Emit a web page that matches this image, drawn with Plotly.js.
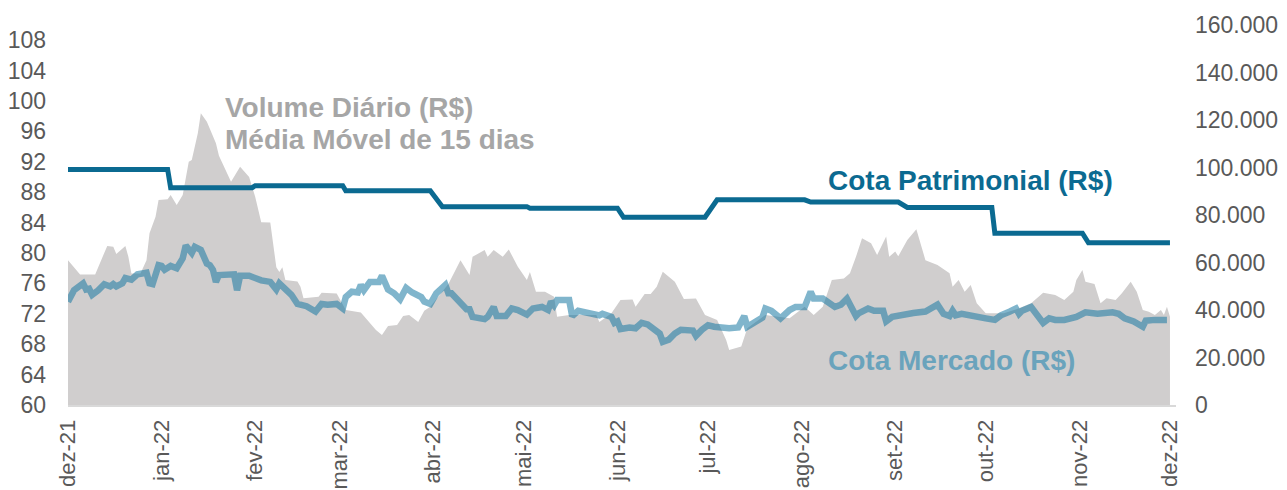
<!DOCTYPE html>
<html>
<head>
<meta charset="utf-8">
<script src="https://cdn.plot.ly/plotly-3.0.1.min.js"></script>
<style>html,body{margin:0;padding:0;background:#fff;}#chart{width:1287px;height:490px;}</style>
</head>
<body>
<div id="chart"></div>
<script>
// X-axis tick positions and labels
var tickDates = ['2021-12-01','2022-01-01','2022-02-01','2022-03-01','2022-04-01','2022-05-01','2022-06-01','2022-07-01','2022-08-01','2022-09-01','2022-10-01','2022-11-01','2022-12-01'];
var tickLabels = ['dez-21','jan-22','fev-22','mar-22','abr-22','mai-22','jun-22','jul-22','ago-22','set-22','out-22','nov-22','dez-22'];

// Volume Diário (R$) - média móvel de 15 dias (eixo direito)
var volDates = [
  '2021-12-01','2021-12-05','2021-12-10','2021-12-14','2021-12-16','2021-12-17','2021-12-20','2021-12-21','2021-12-22','2021-12-25','2021-12-27','2021-12-28','2021-12-30','2021-12-31',
  '2022-01-03','2022-01-04','2022-01-06','2022-01-08','2022-01-10','2022-01-11','2022-01-13','2022-01-14','2022-01-16','2022-01-19','2022-01-20','2022-01-24','2022-01-27','2022-01-30',
  '2022-02-01','2022-02-03','2022-02-06','2022-02-08','2022-02-09','2022-02-10','2022-02-11','2022-02-15','2022-02-16','2022-02-17','2022-02-22','2022-02-23','2022-02-28',
  '2022-03-03','2022-03-08','2022-03-10','2022-03-13','2022-03-15','2022-03-17','2022-03-20','2022-03-22','2022-03-24','2022-03-27','2022-03-29','2022-03-31',
  '2022-04-06','2022-04-10','2022-04-13','2022-04-14','2022-04-18','2022-04-19','2022-04-21','2022-04-24','2022-04-26','2022-04-29',
  '2022-05-02','2022-05-03','2022-05-05','2022-05-08','2022-05-11','2022-05-12','2022-05-16','2022-05-25','2022-05-26','2022-05-30',
  '2022-06-02','2022-06-06','2022-06-07','2022-06-10','2022-06-12','2022-06-14','2022-06-16','2022-06-20','2022-06-23','2022-06-27','2022-06-30',
  '2022-07-04','2022-07-07','2022-07-08','2022-07-12','2022-07-14','2022-07-20','2022-07-28',
  '2022-08-02','2022-08-05','2022-08-08','2022-08-11','2022-08-15','2022-08-17','2022-08-19','2022-08-21','2022-08-24','2022-08-26','2022-08-29','2022-08-30',
  '2022-09-01','2022-09-02','2022-09-05','2022-09-08','2022-09-11','2022-09-15','2022-09-19','2022-09-20','2022-09-22','2022-09-24','2022-09-26','2022-09-28',
  '2022-10-01','2022-10-07','2022-10-12','2022-10-16','2022-10-20','2022-10-24','2022-10-27','2022-10-30','2022-10-31',
  '2022-11-02','2022-11-03','2022-11-06','2022-11-08','2022-11-10','2022-11-13','2022-11-15','2022-11-18','2022-11-20','2022-11-22','2022-11-24','2022-11-26','2022-11-28','2022-11-29','2022-11-30',
  '2022-12-01'
];
var volValues = [
  61000,55000,55000,67000,66600,63600,67000,62400,55400,55400,61000,72300,79300,86300,
  86600,88400,84200,88400,102400,103200,114400,122800,119300,110200,105000,94000,100300,96000,
  87700,77000,76800,58000,56000,58000,52600,52000,49800,45000,45600,47300,47000,
  40000,38900,35800,31600,29500,33300,33700,37500,37900,35000,39700,41400,
  51000,61000,54700,62400,65300,62400,65300,62400,65500,58200,
  52600,56000,47700,47700,45600,37200,37900,37900,35000,38600,
  44200,44400,41400,46700,46700,49800,56100,51900,44600,44800,37900,
  35800,27400,23200,24600,32300,37900,36500,
  41400,37900,41400,52600,53300,55500,62400,70200,68100,63200,70900,62400,
  64600,62600,69500,74000,61000,59000,55500,49800,52600,47700,50500,42800,
  38600,38600,40700,42800,47300,46300,44200,47700,52600,
  56800,51900,51000,42800,44900,44200,47000,51900,47700,40000,39300,37900,40000,37900,41400,
  37200
];

// Cota Mercado (R$) (eixo esquerdo)
var mercDates = [
  '2021-12-01','2021-12-03','2021-12-06','2021-12-07','2021-12-08','2021-12-09','2021-12-11','2021-12-13','2021-12-15','2021-12-16','2021-12-17','2021-12-19','2021-12-20','2021-12-22','2021-12-24','2021-12-27','2021-12-28','2021-12-29','2021-12-31',
  '2022-01-01','2022-01-02','2022-01-04','2022-01-06','2022-01-08','2022-01-09','2022-01-11','2022-01-12','2022-01-14','2022-01-16','2022-01-17','2022-01-18','2022-01-19','2022-01-20','2022-01-23','2022-01-25','2022-01-26','2022-01-27','2022-01-30',
  '2022-02-03','2022-02-06','2022-02-08','2022-02-09','2022-02-10','2022-02-13','2022-02-15','2022-02-18','2022-02-21','2022-02-23','2022-02-25','2022-02-28',
  '2022-03-02','2022-03-03','2022-03-05','2022-03-07','2022-03-08','2022-03-09','2022-03-11','2022-03-14','2022-03-15','2022-03-17','2022-03-19','2022-03-21','2022-03-23','2022-03-25','2022-03-28','2022-03-29','2022-03-31',
  '2022-04-02','2022-04-05','2022-04-06','2022-04-07','2022-04-10','2022-04-12','2022-04-13','2022-04-14','2022-04-18','2022-04-19','2022-04-21','2022-04-22','2022-04-25','2022-04-27','2022-04-29',
  '2022-05-02','2022-05-04','2022-05-07','2022-05-09','2022-05-10','2022-05-11','2022-05-12','2022-05-16','2022-05-17','2022-05-19','2022-05-22','2022-05-24','2022-05-26','2022-05-27','2022-05-30','2022-05-31',
  '2022-06-01','2022-06-02','2022-06-05','2022-06-07','2022-06-09','2022-06-11','2022-06-13','2022-06-15','2022-06-16','2022-06-18','2022-06-20','2022-06-22','2022-06-26','2022-06-27','2022-06-29',
  '2022-07-01','2022-07-03','2022-07-06','2022-07-08','2022-07-11','2022-07-13','2022-07-14','2022-07-17','2022-07-19','2022-07-20','2022-07-22','2022-07-25','2022-07-28','2022-07-30',
  '2022-08-02','2022-08-04','2022-08-05','2022-08-08','2022-08-09','2022-08-12','2022-08-14','2022-08-16','2022-08-19','2022-08-20','2022-08-23','2022-08-25','2022-08-28','2022-08-29','2022-08-31',
  '2022-09-03','2022-09-07','2022-09-11','2022-09-13','2022-09-15','2022-09-17','2022-09-19','2022-09-20','2022-09-21','2022-09-23','2022-09-26','2022-09-29',
  '2022-10-01','2022-10-04','2022-10-06','2022-10-09','2022-10-11','2022-10-12','2022-10-13','2022-10-16','2022-10-18','2022-10-20','2022-10-22','2022-10-24','2022-10-27','2022-10-31',
  '2022-11-03','2022-11-07','2022-11-12','2022-11-14','2022-11-16','2022-11-19','2022-11-22','2022-11-23','2022-11-26','2022-11-30'
];
var mercValues = [
  73.6,75.1,76.0,75.2,75.3,74.5,75.1,75.9,75.6,75.9,75.6,76.0,76.7,76.5,77.2,77.4,76.0,75.9,78.4,
  78.3,77.8,78.3,78.0,79.3,81.0,80.0,80.8,80.4,78.6,78.4,77.8,76.2,77.1,77.1,77.2,75.1,77.0,77.0,
  76.4,76.2,75.2,76.0,75.6,74.5,73.3,73.0,72.3,73.3,73.2,73.3,
  72.7,74.2,74.9,74.8,75.8,75.1,76.2,76.2,77.0,75.2,74.7,73.9,75.4,74.8,74.2,73.6,73.3,
  74.7,75.8,74.7,74.7,73.3,72.6,72.6,71.6,71.3,71.6,72.9,71.7,71.7,72.7,72.5,
  71.9,72.7,72.9,72.5,73.6,73.1,73.8,73.8,71.7,72.4,72.1,72.1,71.8,72.0,71.6,70.8,
  71.0,70.0,70.2,70.1,70.8,70.6,70.1,69.4,68.3,68.6,69.4,69.9,69.8,69.1,69.9,
  70.5,70.3,70.1,70.1,70.2,71.7,70.3,71.0,71.5,72.7,72.4,71.4,72.5,72.9,
  72.9,74.9,74.0,74.0,73.7,72.9,73.2,74.0,71.7,72.1,72.7,72.4,72.4,71.0,71.6,
  71.9,72.1,72.3,72.8,73.2,72.0,71.7,72.4,71.8,72.0,71.7,71.6,
  71.4,71.2,71.8,72.3,72.7,72.0,72.4,72.9,72.0,70.8,71.4,71.2,71.2,71.6,
  72.2,72.0,72.2,72.0,71.4,71.0,70.3,71.1,71.2,71.2
];

// Cota Patrimonial (R$) (eixo esquerdo)
var patDates = ['2021-12-01','2022-01-03','2022-01-04','2022-01-31','2022-02-01','2022-03-02','2022-03-03','2022-03-31','2022-04-04','2022-05-02','2022-05-03','2022-06-01','2022-06-03','2022-06-30','2022-07-04','2022-08-02','2022-08-04','2022-09-02','2022-09-05','2022-10-03','2022-10-04','2022-11-02','2022-11-04','2022-12-01'];
var patValues = [91.0,91.0,88.6,88.6,88.85,88.85,88.2,88.2,86.1,86.1,85.9,85.9,84.7,84.7,87.0,87.0,86.7,86.7,86.0,86.0,82.6,82.6,81.35,81.35];

var FONT = 'Arial, "Liberation Sans", sans-serif';

var traces = [
  {
    x: volDates, y: volValues, type: 'scatter', mode: 'lines',
    fill: 'tozeroy', fillcolor: '#D0CECE', line: {width: 0, color: '#D0CECE'},
    xaxis: 'x', yaxis: 'y', hoverinfo: 'skip'
  },
  {
    x: patDates, y: patValues, type: 'scatter', mode: 'lines',
    line: {width: 5, color: '#0B6A91'}, xaxis: 'x', yaxis: 'y2'
  },
  {
    x: mercDates, y: mercValues, type: 'scatter', mode: 'lines',
    line: {width: 6.5, color: 'rgba(24,121,163,0.55)'}, xaxis: 'x', yaxis: 'y2'
  }
];

var layout = {
  width: 1287, height: 490,
  margin: {l: 68, r: 111, t: 25, b: 85, pad: 0},
  paper_bgcolor: '#ffffff', plot_bgcolor: '#ffffff',
  separators: ',.',
  showlegend: false,
  font: {family: FONT, color: '#595959'},
  xaxis: {
    type: 'date', range: ['2021-12-01', '2022-12-03'],
    tickmode: 'array', tickvals: tickDates, ticktext: tickLabels,
    tickangle: -90, tickfont: {family: FONT, size: 22, color: '#595959'},
    showgrid: false, zeroline: false, showline: true, linecolor: '#D9D9D9', linewidth: 2,
    ticks: '', ticklabelstandoff: 4
  },
  yaxis: {
    side: 'right', range: [0, 160000], tick0: 0, dtick: 20000, tickformat: ',.0f',
    tickfont: {family: FONT, size: 23, color: '#595959'},
    showgrid: false, zeroline: false, showline: false, ticks: '', ticklabelstandoff: 18
  },
  yaxis2: {
    overlaying: 'y', side: 'left', range: [60, 110], tick0: 60, dtick: 4,
    tickfont: {family: FONT, size: 23, color: '#595959'},
    showgrid: false, zeroline: false, showline: false, ticks: '', ticklabelstandoff: 21
  },
  annotations: [
    {text: '<b>Volume Diário (R$)</b>', xref: 'paper', yref: 'paper', x: 0.1399, y: 0.7816,
     xanchor: 'left', yanchor: 'middle', showarrow: false, font: {family: FONT, size: 28, color: '#A6A6A6'}},
    {text: '<b>Média Móvel de 15 dias</b>', xref: 'paper', yref: 'paper', x: 0.1399, y: 0.6974,
     xanchor: 'left', yanchor: 'middle', showarrow: false, font: {family: FONT, size: 28, color: '#A6A6A6'}},
    {text: '<b>Cota Patrimonial (R$)</b>', xref: 'paper', yref: 'paper', x: 0.684, y: 0.592,
     xanchor: 'left', yanchor: 'middle', showarrow: false, font: {family: FONT, size: 28, color: '#0B6A91'}},
    {text: '<b>Cota Mercado (R$)</b>', xref: 'paper', yref: 'paper', x: 0.684, y: 0.118,
     xanchor: 'left', yanchor: 'middle', showarrow: false, font: {family: FONT, size: 28, color: '#6AA3BC'}}
  ]
};

Plotly.newPlot('chart', traces, layout, {displayModeBar: false, staticPlot: true});
</script>
</body>
</html>
